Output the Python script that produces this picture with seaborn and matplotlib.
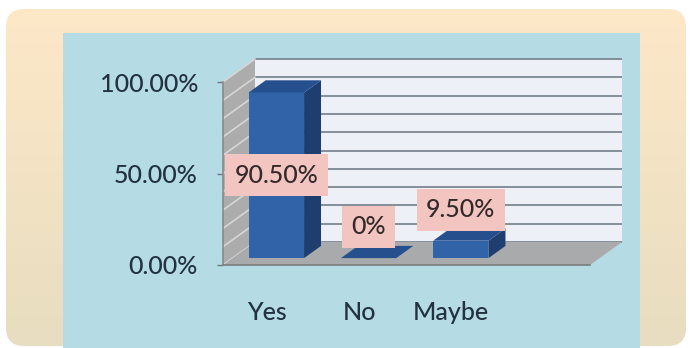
import numpy as np
import pandas as pd
import matplotlib
matplotlib.use("Agg")
import matplotlib.pyplot as plt
import matplotlib.transforms as mtransforms
from matplotlib.patches import Polygon, FancyBboxPatch, Rectangle
from matplotlib.colors import to_rgb
import seaborn as sns

# ---- data -------------------------------------------------------------
categories = ["Yes", "No", "Maybe"]
shares = [0.905, 0.0, 0.095]
value_labels = ["90.50%", "0%", "9.50%"]
y_ticks = [0.0, 0.5, 1.0]
y_tick_labels = ["0.00%", "50.00%", "100.00%"]
grid_levels = np.linspace(0.0, 1.0, 11)

# ---- styling ----------------------------------------------------------
sns.set_theme(style="white")
plt.rcParams["font.family"] = ["Lato", "DejaVu Sans"]
plt.rcParams["font.weight"] = "medium"

TEXT = "#22323f"
LABEL_TEXT = "#352a2a"
BAR_FRONT = "#3063a7"
BAR_TOP = "#264f8d"
BAR_SIDE = "#1d3e6e"
LABEL_BG = "#f2c5c1"
WALL_BACK = "#eef0f7"
WALL_SIDE = "#acacac"
FLOOR = "#a8aaac"
GRID = "#7d8793"
PANEL = "#b5dbe4"

W, H = 692, 348
fig = plt.figure(figsize=(W / 100, H / 100), dpi=100)
fig.patch.set_facecolor("white")

# ---- frame and panel, in pixel coordinates ----------------------------
bg = fig.add_axes([0, 0, 1, 1])
bg.set_xlim(0, W)
bg.set_ylim(H, 0)
bg.axis("off")

frame = FancyBboxPatch((6, 9), 680, 337, boxstyle="round,pad=0,rounding_size=18",
                       facecolor="none", edgecolor="none")
bg.add_patch(frame)
top_c = np.array(to_rgb("#fde8c8"))
bot_c = np.array(to_rgb("#e8ddc0"))
t = np.linspace(0, 1, 256)[:, None, None]
grad = top_c * (1 - t) + bot_c * t
grad = np.repeat(grad, 4, axis=1)
im = bg.imshow(grad, extent=(6, 686, 346, 9), aspect="auto", interpolation="bicubic")
im.set_clip_path(frame)

bg.add_patch(Rectangle((63, 33), 577, 320, facecolor=PANEL, edgecolor="none"))

# ---- chart axes: front plane of the 3-D box ---------------------------
x_left, x_right, y_floor, y_top = 223, 590, 265, 82
ax = fig.add_axes([x_left / W, (H - y_floor) / H,
                   (x_right - x_left) / W, (y_floor - y_top) / H])
ax.patch.set_visible(False)
XMIN, XMAX = -0.475, 3.505

# depth of the box in data units, and where the bars sit inside it
DX = 32 / ((x_right - x_left) / (XMAX - XMIN))
DY = 23 / (y_floor - y_top)
F0, BD = 0.30, 0.53
LABEL_GAP = 19 / (y_floor - y_top)

def poly(pts, **kw):
    p = Polygon(pts, closed=True, clip_on=False, **kw)
    ax.add_patch(p)
    return p

# ---- bars -------------------------------------------------------------
df = pd.DataFrame({"answer": categories, "share": shares})
sns.barplot(data=df, x="answer", y="share", order=categories, ax=ax,
            width=0.6, color=BAR_FRONT, saturation=1, zorder=3)
bars = list(ax.containers[0])
ax.set_xlim(XMIN, XMAX)
ax.set_ylim(0, 1)

# back wall
poly([(XMIN + DX, DY), (XMAX + DX, DY), (XMAX + DX, 1 + DY), (XMIN + DX, 1 + DY)],
     facecolor=WALL_BACK, edgecolor="none", zorder=0.5)
for g in grid_levels:
    ax.plot([XMIN + DX, XMAX + DX], [g + DY, g + DY], color=GRID, lw=1.3,
            clip_on=False, zorder=0.6, solid_capstyle="butt")
# side wall with its gridlines
poly([(XMIN, 0), (XMIN + DX, DY), (XMIN + DX, 1 + DY), (XMIN, 1)],
     facecolor=WALL_SIDE, edgecolor="none", zorder=0.7)
for g in grid_levels:
    ax.plot([XMIN, XMIN + DX], [g, g + DY], color="#d6d6d6", lw=1.2,
            clip_on=False, zorder=0.75)
# floor
poly([(XMIN, 0), (XMAX, 0), (XMAX + DX, DY), (XMIN + DX, DY)],
     facecolor=FLOOR, edgecolor="none", zorder=0.8)

shift = mtransforms.Affine2D().translate(F0 * DX, F0 * DY) + ax.transData
bdx, bdy = BD * DX, BD * DY
ox, oy = F0 * DX, F0 * DY
for bar, lab in zip(bars, value_labels):
    bar.set_transform(shift)
    bar.set_edgecolor("none")
    x0, w, h = bar.get_x(), bar.get_width(), bar.get_height()
    x1 = x0 + w
    poly([(x1 + ox, oy), (x1 + ox + bdx, oy + bdy), (x1 + ox + bdx, h + oy + bdy), (x1 + ox, h + oy)],
         facecolor=BAR_SIDE, edgecolor="none", zorder=2.9)
    poly([(x0 + ox, h + oy), (x1 + ox, h + oy), (x1 + ox + bdx, h + oy + bdy), (x0 + ox + bdx, h + oy + bdy)],
         facecolor=BAR_TOP, edgecolor="none", zorder=3.1)
    cx = x0 + w / 2 + ox
    box = dict(boxstyle="square,pad=0.38", facecolor=LABEL_BG, edgecolor="none")
    # tall bars carry their label in the middle, short ones just above the top
    ly = h / 2 + oy if h > 0.3 else h + oy + bdy + LABEL_GAP
    ax.text(cx, ly, lab, ha="center", va="center", fontsize=18,
            color=LABEL_TEXT, bbox=box, zorder=5)

# ---- axis lines, ticks and labels ------------------------------------
for s in ["top", "right"]:
    ax.spines[s].set_visible(False)
ax.spines["left"].set_color("#8a8a8a")
ax.spines["bottom"].set_color("#7c7c7c")
ax.spines["left"].set_linewidth(1.2)
ax.spines["bottom"].set_linewidth(1.2)
for sp in ax.spines.values():
    sp.set_zorder(1)
ax.set_yticks(y_ticks)
ax.set_yticklabels(y_tick_labels)
ax.tick_params(axis="y", length=4, width=1, color="#6f7780", pad=14,
               labelsize=18, labelcolor=TEXT, left=True)
ax.tick_params(axis="x", length=0, pad=26, labelsize=18, labelcolor=TEXT)
ax.set_xlabel("")
ax.set_ylabel("")

fig.savefig("out.png", dpi=100, facecolor=fig.get_facecolor())
